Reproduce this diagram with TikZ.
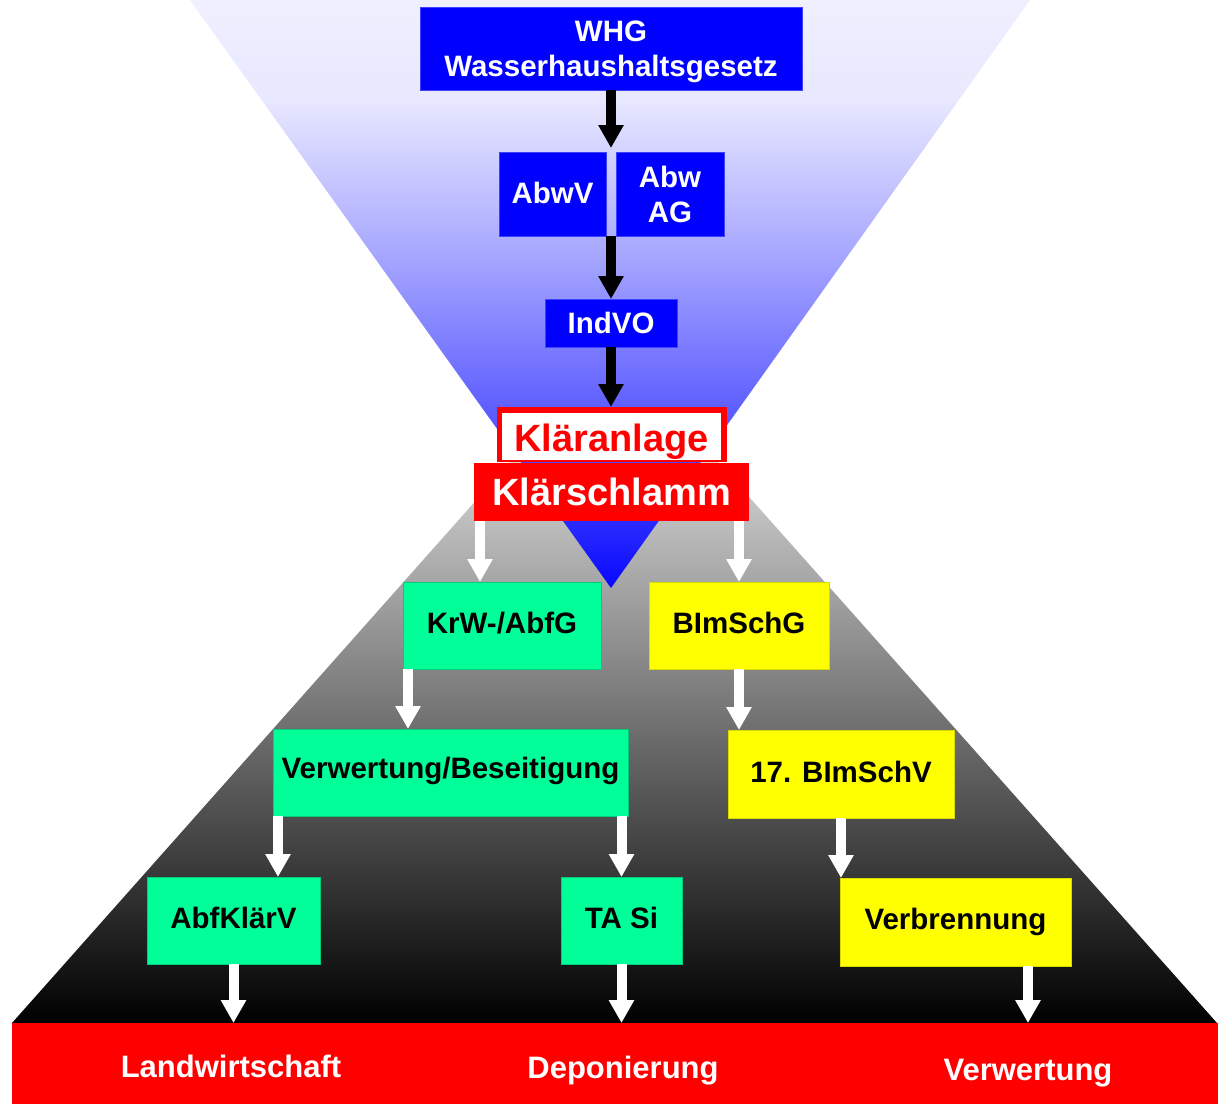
\documentclass[tikz,border=0pt]{standalone}
\usepackage{fontspec}
\setmainfont{Liberation Sans}
\usetikzlibrary{arrows.meta}

\definecolor{lawblue}{RGB}{0,0,255}
\definecolor{lawgreen}{RGB}{0,255,153}
\definecolor{lawyellow}{RGB}{255,255,0}
\definecolor{lawred}{RGB}{255,0,0}

% blue funnel: pale lavender at the rim, deep blue at the tip
\pgfdeclareverticalshading{bluefunnel}{100bp}{%
  color(0bp)=(lawblue!97!white);
  color(25bp)=(lawblue!97!white);
  color(29bp)=(lawblue!87!white);
  color(43.5bp)=(lawblue!56!white);
  color(53.7bp)=(lawblue!34!white);
  color(66.5bp)=(lawblue!9!white);
  color(75bp)=(lawblue!6!white);
  color(100bp)=(lawblue!6!white)}

\tikzset{
  box/.style={rectangle, anchor=north west, inner sep=0pt, outer sep=0pt, align=center,
    font=\bfseries\fontsize{29.5}{35}\selectfont, text height=21pt, text depth=6pt},
  twoline/.style={text height=, text depth=},
  bluebox/.style={box, fill=lawblue, draw=blue!75!white, line width=1pt, text=white,
    text depth=2pt},
  greenbox/.style={box, fill=lawgreen, draw=lawgreen!80!black, line width=0.8pt, text=black},
  yellowbox/.style={box, fill=lawyellow, draw=lawyellow!85!black, line width=0.8pt, text=black},
  bigfont/.style={font=\bfseries\fontsize{38}{44}\selectfont, text height=27.2pt, text depth=0pt},
  barlabel/.style={text=white, inner sep=0pt, font=\bfseries\fontsize{31}{36}\selectfont,
    text height=22.2pt, text depth=0pt},
  barrow/.style={draw=black, line width=10pt, -{Triangle[width=24pt,length=23pt]}},
  warrow/.style={draw=white, line width=10pt, -{Triangle[width=24pt,length=23pt]}},
}

\begin{document}
\begin{tikzpicture}[x=1pt, y=-1pt]
  \useasboundingbox (0,0) rectangle (1218,1104);
  \fill[white] (0,0) rectangle (1218,1104);

  % grey funnel, fading to black towards the bottom
  \shade[top color=white, bottom color=black]
    (614,345) -- (12,1023) -- (1217,1023) -- cycle;

  % blue funnel from the top
  \shade[shading=bluefunnel] (190,0) -- (1030,0) -- (611,588) -- cycle;

  % water law chain
  \node[bluebox, twoline, minimum width=382pt, minimum height=83pt] (whg) at (420,7)
    {WHG\\\smash{Wasserhaushaltsgesetz}};
  \node[bluebox, minimum width=107pt, minimum height=84pt] (abwv) at (499,152) {AbwV};
  \node[bluebox, twoline, minimum width=108pt, minimum height=84pt] (abwag) at (616,152) {Abw\\AG};
  \node[bluebox, text depth=0pt, minimum width=132pt, minimum height=48pt] (indvo) at (545,299) {IndVO};

  % treatment plant (red frame, white inside) and sludge
  \node[box, fill=lawred, minimum width=230pt, minimum height=55pt, text height=, text depth=]
    (klaer) at (497,407) {};
  \node[box, bigfont, text height=29.2pt, fill=white, text=lawred,
        minimum width=219pt, minimum height=47pt] (klaerin) at (502,413) {Kläranlage};
  \node[box, bigfont, fill=lawred, text=white,
        minimum width=275pt, minimum height=58pt] (kschl) at (474,463) {Klärschlamm};

  % waste law branch
  \node[greenbox, minimum width=198pt, minimum height=87pt] (krw) at (403,582) {KrW-/AbfG};
  \node[greenbox, text depth=10pt, minimum width=355pt, minimum height=87pt] (verw) at (273,729)
    {Verwertung/Beseitigung};
  \node[greenbox, minimum width=173pt, minimum height=87pt] (abfk) at (147,877) {AbfKlärV};
  \node[greenbox, minimum width=121pt, minimum height=87pt] (tasi) at (561,877) {TA Si};

  % emission control branch
  \node[yellowbox, minimum width=180pt, minimum height=87pt] (bimschg) at (649,582) {BImSchG};
  \node[yellowbox, text depth=4pt, minimum width=226pt, minimum height=88pt] (bimschv) at (728,730)
    {17. BImSchV};
  \node[yellowbox, minimum width=231pt, minimum height=88pt] (verbr) at (840,878) {Verbrennung};

  % disposal routes
  \node[box, fill=lawred, minimum width=1206pt, minimum height=81pt, text height=, text depth=]
    (bar) at (12,1023) {};
  \node[barlabel] (landw) at (231,1066) {Landwirtschaft};
  \node[barlabel] (depon) at (623,1067) {Deponierung};
  \node[barlabel] (verwt) at (1028,1069) {Verwertung};

  % arrow positions
  \coordinate (gap) at (611,148);
  \coordinate (c1) at (480,0);
  \coordinate (c3) at (408,0);
  \coordinate (c4) at (278,0);
  \coordinate (c5) at (1028,0);

  % black arrows
  \draw[barrow] (whg.south -| gap) -- (gap);
  \draw[barrow] (gap |- abwv.south) -- (gap |- indvo.north);
  \draw[barrow] (indvo.south -| gap) -- (gap |- klaer.north);

  % white arrows
  \draw[warrow] (kschl.south -| c1) -- (krw.north -| c1);
  \draw[warrow] (kschl.south -| bimschg.north) -- (bimschg.north);
  \draw[warrow] (krw.south -| c3) -- (verw.north -| c3);
  \draw[warrow] (bimschg.south) -- (bimschg.south |- bimschv.north);
  \draw[warrow] (verw.south -| c4) -- (abfk.north -| c4);
  \draw[warrow] (verw.south -| tasi.north) -- (tasi.north);
  \draw[warrow] (bimschv.south) -- (bimschv.south |- verbr.north);
  \draw[warrow] (abfk.south) -- (abfk.south |- bar.north);
  \draw[warrow] (tasi.south) -- (tasi.south |- bar.north);
  \draw[warrow] (verbr.south -| c5) -- (bar.north -| c5);
\end{tikzpicture}
\end{document}
